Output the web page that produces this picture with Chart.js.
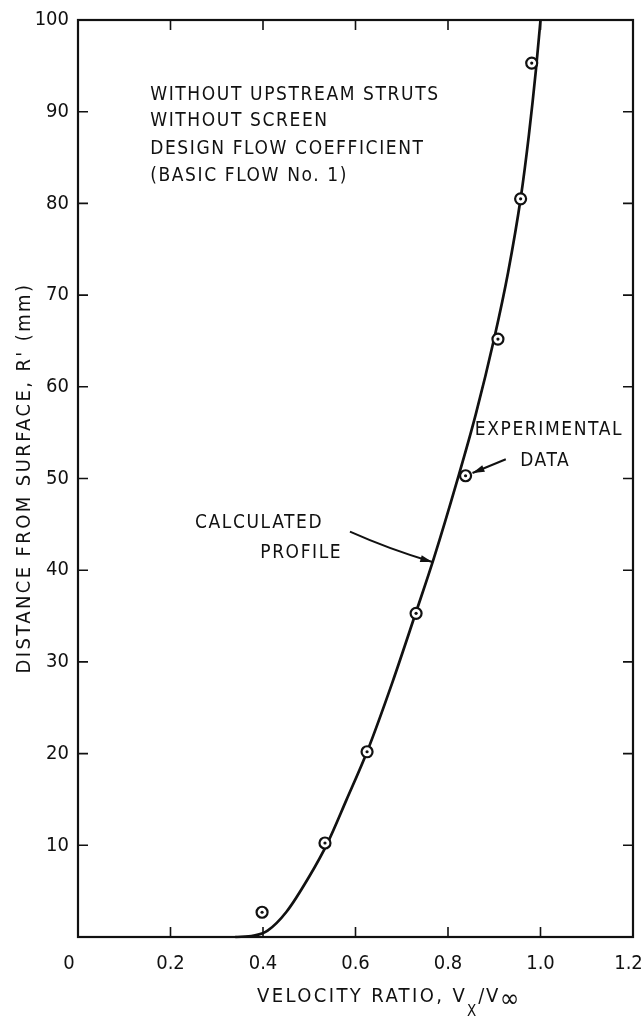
<!DOCTYPE html>
<html><head><meta charset="utf-8">
<script src="https://cdn.jsdelivr.net/npm/chart.js@4"></script>
<style>html,body{margin:0;padding:0;background:#fff}#wrap{width:644px;height:1019px;position:relative}</style>
</head><body><div id="wrap"><canvas id="c"></canvas></div>
<script>
const xTickValues = [0, 0.2, 0.4, 0.6, 0.8, 1.0, 1.2];
const xTickLabels = ['0\u2003', '0.2', '0.4', '0.6', '0.8', '1.0', '1.2\u2002'];
const yTickValues = [0, 10, 20, 30, 40, 50, 60, 70, 80, 90, 100];
const yTickLabels = ['', '10', '20', '30', '40', '50', '60', '70', '80', '90', '100'];

// Experimental data (circles with centre dot)
const expX = [0.398, 0.534, 0.625, 0.731, 0.838, 0.908, 0.957, 0.981];
const expY = [2.7, 10.25, 20.2, 35.3, 50.3, 65.2, 80.5, 95.3];

// Calculated profile
const calcX = [0.34, 0.38, 0.41, 0.45, 0.50, 0.54, 0.58, 0.625, 0.68, 0.73, 0.77, 0.82, 0.86, 0.90, 0.93, 0.957, 0.975, 0.99, 1.0];
const calcY = [0, 0.15, 0.7, 2.7, 6.6, 10.3, 14.9, 20.2, 27.8, 35.3, 41.4, 49.8, 57.0, 65.3, 72.5, 80.5, 87.5, 94.5, 100];

const noteLines = ['WITHOUT UPSTREAM STRUTS', 'WITHOUT SCREEN', 'DESIGN FLOW COEFFICIENT', '(BASIC FLOW No. 1)'];
const yTitle = "DISTANCE FROM SURFACE, R' (mm)";

const FONT = '"Liberation Sans Narrow", "DejaVu Sans Condensed", "DejaVu Sans", sans-serif';

const pts = (xs, ys) => xs.map((x, i) => ({x, y: ys[i]}));

function setFont(ctx, size, spacing) {
  ctx.font = size + 'px ' + FONT;
  ctx.letterSpacing = (spacing || 0) + 'px';
}

const decor = {
  id: 'decor',
  afterDraw(chart) {
    const {ctx, chartArea: a, scales: {x, y}} = chart;
    ctx.save();
    ctx.strokeStyle = '#111';
    ctx.fillStyle = '#111';
    // frame
    ctx.lineWidth = 2.2;
    ctx.strokeRect(a.left, a.top, a.right - a.left, a.bottom - a.top);
    // inward ticks
    ctx.lineWidth = 1.6;
    const tl = 10;
    xTickValues.forEach(v => {
      if (v === 0 || v === 1.2) return;
      const px = x.getPixelForValue(v);
      ctx.beginPath();
      ctx.moveTo(px, a.bottom); ctx.lineTo(px, a.bottom - tl);
      ctx.moveTo(px, a.top); ctx.lineTo(px, a.top + tl);
      ctx.stroke();
    });
    yTickValues.forEach(v => {
      if (v === 0 || v === 100) return;
      const py = y.getPixelForValue(v);
      ctx.beginPath();
      ctx.moveTo(a.left, py); ctx.lineTo(a.left + tl, py);
      ctx.moveTo(a.right, py); ctx.lineTo(a.right - tl, py);
      ctx.stroke();
    });

    // notes
    setFont(ctx, 19, 1.6);
    ctx.textBaseline = 'middle';
    ctx.textAlign = 'left';
    const nx = x.getPixelForValue(0.156);
    const ny = [91.8, 89.0, 85.9, 83.0];
    noteLines.forEach((t, i) => ctx.fillText(t, nx, y.getPixelForValue(ny[i])));

    // calculated profile label
    ctx.fillText('CALCULATED', x.getPixelForValue(0.253), y.getPixelForValue(45.1));
    ctx.fillText('PROFILE', x.getPixelForValue(0.394), y.getPixelForValue(41.9));
    // experimental data label
    ctx.fillText('EXPERIMENTAL', x.getPixelForValue(0.858), y.getPixelForValue(55.3));
    ctx.fillText('DATA', x.getPixelForValue(0.956), y.getPixelForValue(51.9));

    // arrows
    function arrow(x0, y0, x1, y1, bend) {
      const p0 = [x.getPixelForValue(x0), y.getPixelForValue(y0)];
      const p1 = [x.getPixelForValue(x1), y.getPixelForValue(y1)];
      const mx = (p0[0] + p1[0]) / 2, my = (p0[1] + p1[1]) / 2;
      const dx = p1[0] - p0[0], dy = p1[1] - p0[1];
      const len = Math.hypot(dx, dy);
      const cx = mx - dy / len * bend, cy = my + dx / len * bend;
      ctx.lineWidth = 2;
      ctx.beginPath();
      ctx.moveTo(p0[0], p0[1]);
      ctx.quadraticCurveTo(cx, cy, p1[0], p1[1]);
      ctx.stroke();
      const ang = Math.atan2(p1[1] - cy, p1[0] - cx);
      const hl = 12, hw = 3.5;
      ctx.beginPath();
      ctx.moveTo(p1[0], p1[1]);
      ctx.lineTo(p1[0] - hl * Math.cos(ang) + hw * Math.sin(ang), p1[1] - hl * Math.sin(ang) - hw * Math.cos(ang));
      ctx.lineTo(p1[0] - hl * Math.cos(ang) - hw * Math.sin(ang), p1[1] - hl * Math.sin(ang) + hw * Math.cos(ang));
      ctx.closePath();
      ctx.fill();
    }
    arrow(0.588, 44.2, 0.766, 40.9, 3);
    arrow(0.925, 52.1, 0.853, 50.6, 0);

    // y title
    setFont(ctx, 20, 2.4);
    ctx.save();
    ctx.translate(25, 478);
    ctx.rotate(-Math.PI / 2);
    ctx.textAlign = 'center';
    ctx.textBaseline = 'middle';
    ctx.fillText(yTitle, 0, 0);
    ctx.restore();

    // x title with subscripts
    const base = 1002;
    ctx.textAlign = 'left';
    ctx.textBaseline = 'alphabetic';
    const parts = [
      ['VELOCITY RATIO, V', 20, 2.4, 0],
      ['X', 15, 2, 14],
      ['/V', 20, 1.5, 0],
      ['\u221E', 26, 0, 5]
    ];
    let cx = 257;
    parts.forEach(p => { setFont(ctx, p[1], p[2]); ctx.fillText(p[0], cx, base + p[3]); cx += ctx.measureText(p[0]).width; });
    ctx.restore();
  }
};

new Chart(document.getElementById('c'), {
  type: 'scatter',
  data: {
    datasets: [
      {
        label: 'dots',
        data: pts(expX, expY),
        showLine: false,
        pointStyle: 'circle',
        pointRadius: 1.6,
        pointBackgroundColor: '#111',
        pointBorderWidth: 0
      },
      {
        label: 'Experimental data',
        data: pts(expX, expY),
        showLine: false,
        pointStyle: 'circle',
        pointRadius: 5.5,
        pointBackgroundColor: '#fff',
        pointBorderColor: '#111',
        pointBorderWidth: 2.2
      },
      {
        label: 'Calculated profile',
        data: pts(calcX, calcY),
        showLine: true,
        pointRadius: 0,
        borderColor: '#111',
        borderWidth: 2.7,
        cubicInterpolationMode: 'monotone',
        clip: false
      }
    ]
  },
  options: {
    responsive: true,
    maintainAspectRatio: false,
    animation: false,
    events: [],
    layout: {padding: {left: 0, right: 11, top: 20, bottom: 0}},
    plugins: {legend: {display: false}, tooltip: {enabled: false}},
    scales: {
      x: {
        type: 'linear', min: 0, max: 1.2,
        afterBuildTicks: s => { s.ticks = xTickValues.map(v => ({value: v})); },
        afterFit: s => { s.height = 82; s.paddingLeft = 0; s.paddingRight = 0; },
        grid: {display: false, drawTicks: false},
        border: {display: false},
        ticks: {
          padding: 15,
          color: '#111',
          font: {size: 20, family: FONT},
          maxRotation: 0,
          autoSkip: false,
          callback: (v, i) => xTickLabels[i]
        }
      },
      y: {
        type: 'linear', min: 0, max: 100,
        afterBuildTicks: s => { s.ticks = yTickValues.map(v => ({value: v})); },
        afterFit: s => { s.width = 78; s.paddingTop = 0; s.paddingBottom = 0; },
        grid: {display: false, drawTicks: false},
        border: {display: false},
        ticks: {
          padding: 9,
          color: '#111',
          font: {size: 20, family: FONT},
          autoSkip: false,
          callback: (v, i) => yTickLabels[i]
        }
      }
    }
  },
  plugins: [decor]
});
</script>
</body></html>
